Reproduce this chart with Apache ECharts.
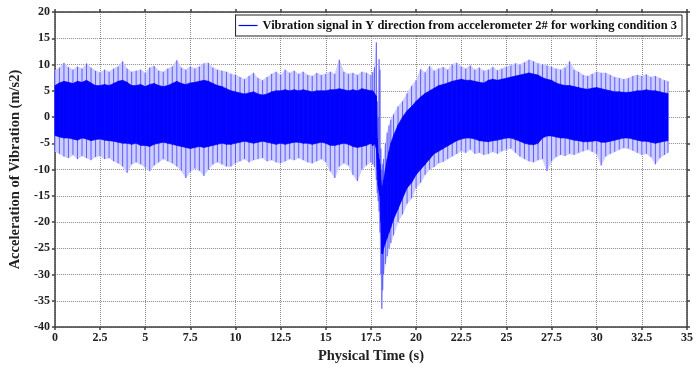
<!DOCTYPE html>
<html>
<head>
<meta charset="utf-8">
<script src="https://cdn.jsdelivr.net/npm/echarts@6/dist/echarts.min.js"></script>
<style>
  html, body { margin: 0; padding: 0; background: #fff; }
  #chart { width: 696px; height: 369px; }
</style>
</head>
<body>
<div id="chart"></div>
<script>
// time of each envelope reading (s)
const time = [
  0, 0.25, 0.5, 0.75, 1, 1.25, 1.5, 1.75, 2, 2.25, 2.5, 2.75, 3, 3.25, 3.5, 3.75,
  4, 4.25, 4.5, 4.75, 5, 5.25, 5.5, 5.75, 6, 6.25, 6.5, 6.75, 7, 7.25, 7.5, 7.75,
  8, 8.25, 8.5, 8.75, 9, 9.25, 9.5, 9.75, 10, 10.25, 10.5, 10.75, 11, 11.25, 11.5, 11.75,
  12, 12.25, 12.5, 12.75, 13, 13.25, 13.5, 13.75, 14, 14.25, 14.5, 14.75, 15, 15.25, 15.5, 15.75,
  16, 16.25, 16.5, 16.75, 17, 17.25, 17.5,
  17.6, 17.7, 17.8, 17.85, 17.9, 17.95, 18, 18.05, 18.1, 18.15, 18.2, 18.3, 18.4, 18.5, 18.6, 18.75,
  19, 19.25, 19.5, 19.75, 20, 20.25, 20.5, 20.75, 21, 21.25, 21.5, 21.75,
  22, 22.25, 22.5, 22.75, 23, 23.25, 23.5, 23.75, 24, 24.25, 24.5, 24.75,
  25, 25.25, 25.5, 25.75, 26, 26.25, 26.5, 26.75, 27, 27.25, 27.5, 27.75,
  28, 28.25, 28.5, 28.75, 29, 29.25, 29.5, 29.75, 30, 30.25, 30.5, 30.75,
  31, 31.25, 31.5, 31.75, 32, 32.25, 32.5, 32.75, 33, 33.25, 33.5, 33.75, 33.95
];
// tallest spikes above the band
const peakHigh = [
  8.8, 9.4, 10.3, 9.5, 9.0, 9.6, 9.2, 10.2, 9.4, 8.8, 8.5, 9.0, 8.6, 9.2, 9.6, 10.6,
  9.2, 8.6, 8.8, 9.0, 8.4, 9.4, 9.7, 8.8, 8.6, 9.2, 9.6, 10.8, 9.4, 9.0, 9.6, 9.2,
  9.6, 10.2, 10.3, 9.4, 9.0, 8.8, 8.6, 8.2, 8.0, 7.6, 7.2, 7.8, 8.4, 7.4, 7.0, 7.6,
  8.2, 8.6, 8.0, 9.0, 8.4, 8.8, 8.2, 8.6, 8.0, 7.8, 8.4, 8.0, 8.2, 8.6, 8.2, 10.9,
  8.6, 8.2, 8.4, 8.0, 8.6, 8.4, 8.0,
  8.5, 9.5, 14.2, 3.0, 0, 11.0, 9.0, -6, -10, -9, -8, -5, -3, -1.6, -0.5, 0.5,
  2.0, 3.0, 4.5, 5.9, 7.0, 9.1, 8.5, 9.7, 8.8, 9.2, 9.5, 9.0,
  10.0, 10.3, 9.6, 9.2, 9.8, 9.0, 9.4, 8.8, 9.0, 9.5, 8.9, 9.2,
  9.6, 9.8, 10.2, 10.0, 10.4, 10.9, 10.6, 10.2, 10.0, 9.8, 9.5, 9.2,
  9.0, 9.4, 10.6, 9.0, 8.6, 8.0, 7.8, 8.2, 8.6, 8.4, 8.4, 8.0,
  7.6, 7.4, 7.2, 7.4, 7.8, 8.0, 7.8, 8.1, 7.6, 7.8, 7.4, 7.0, 6.8
];
// top of the dense band
const coreHigh = [
  6.0, 6.5, 6.8, 6.6, 6.4, 6.8, 6.6, 7.0, 6.5, 6.0, 6.0, 6.2, 6.0, 6.4, 6.8, 7.0,
  6.6, 6.0, 6.0, 6.2, 5.8, 6.2, 6.4, 6.0, 5.8, 6.0, 6.4, 6.8, 6.4, 6.2, 6.5, 6.6,
  6.8, 7.0, 6.8, 6.4, 6.0, 5.8, 5.4, 5.0, 4.8, 4.6, 4.4, 4.6, 4.8, 4.4, 4.2, 4.4,
  4.8, 5.0, 5.0, 5.2, 5.0, 5.2, 5.0, 5.2, 5.0, 4.8, 5.0, 5.0, 5.0, 5.2, 5.2, 5.4,
  5.2, 5.0, 5.2, 5.0, 5.4, 5.2, 5.0,
  5.0, 4.5, 4.0, -4, -7, -8, -9, -12, -14, -13, -12, -10, -8, -6.5, -5, -3.5,
  -1.5, 0, 1.2, 2.0, 3.0, 3.8, 4.5, 5.0, 5.5, 6.0, 6.2, 6.5,
  6.8, 7.0, 7.2, 7.0, 7.0, 6.8, 6.6, 6.5, 7.0, 7.2, 7.0, 7.2,
  7.4, 7.6, 7.8, 8.0, 8.2, 8.4, 8.2, 8.0, 7.5, 7.2, 7.0, 6.5,
  6.2, 6.0, 6.0, 5.8, 5.6, 5.4, 5.3, 5.5, 5.6, 5.4, 5.2, 5.0,
  4.8, 4.8, 4.7, 4.7, 4.8, 5.0, 5.0, 5.2, 5.0, 5.0, 4.8, 4.6, 4.5
];
// bottom of the dense band
const coreLow = [
  -3.5, -3.8, -4.0, -4.0, -4.2, -4.4, -4.0, -4.2, -4.5, -4.3, -4.2, -4.4, -4.5, -4.6, -4.8, -5.0,
  -5.0, -5.2, -5.0, -5.4, -5.4, -5.6, -5.2, -5.0, -4.8, -5.0, -5.2, -5.4, -5.6, -5.8, -6.0, -5.8,
  -5.6, -5.8, -5.6, -5.4, -5.2, -5.0, -5.2, -5.2, -5.0, -4.8, -4.6, -4.8, -5.0, -4.8, -4.6, -4.8,
  -5.0, -5.2, -5.0, -5.2, -5.0, -4.8, -4.8, -5.0, -5.0, -5.2, -5.0, -4.8, -5.0, -5.4, -5.4, -5.2,
  -5.0, -5.2, -5.6, -5.8, -5.6, -5.4, -5.0,
  -5.5, -5.0, -6.0, -10, -13, -14, -15, -20, -26, -26, -25, -24, -23, -22, -21, -19.5,
  -17.5, -15.5, -13.5, -12.5, -11, -10, -9, -8, -7, -6.5, -6, -5.5,
  -5, -4.5, -4.2, -4.0, -4.0, -4.2, -4.5, -4.6, -4.7, -4.5, -4.4, -4.2,
  -4.0, -4.0, -4.3, -4.6, -5.0, -5.2, -5.3, -5.0, -4.0, -3.6, -3.6, -3.8,
  -4.0, -4.0, -4.2, -4.4, -4.5, -4.7, -4.7, -4.6, -4.5, -4.8, -4.8, -4.6,
  -4.4, -4.2, -4.0, -4.0, -4.2, -4.4, -4.6, -4.6, -4.8, -5.0, -4.8, -4.6, -4.5
];
// deepest spikes below the band
const peakLow = [
  -6.5, -7.0, -7.5, -7.8, -7.2, -8.0, -7.4, -7.8, -8.2, -7.6, -7.4, -8.0, -7.8, -8.4, -8.8, -9.4,
  -10.6, -9.0, -8.6, -9.0, -9.6, -10.3, -9.2, -8.6, -8.0, -8.4, -8.8, -9.4, -10.2, -11.6, -10.4, -9.8,
  -10.2, -11.2, -10.0, -9.0, -8.6, -9.0, -9.4, -9.4, -8.8, -8.4, -8.0, -8.6, -8.2, -8.0, -7.8, -8.4,
  -8.2, -8.6, -8.8, -8.4, -8.0, -8.2, -7.8, -8.2, -8.6, -8.8, -8.4, -8.0, -8.6, -10.3, -11.6, -9.4,
  -8.8, -9.2, -11.0, -12.2, -10.0, -9.2, -8.6,
  -9.0, -9.5, -12.0, -14.5, -16, -18, -22, -30, -36.5, -33, -30, -28, -26.5, -25, -24, -22.5,
  -20, -18.5, -16.5, -15.5, -13.5, -12.5, -11, -10, -9.5, -8.8, -8.5, -8,
  -7.5, -7, -6.5, -6.8, -6.2, -7.0, -6.8, -7.2, -7.0, -6.6, -7.0, -6.5,
  -6.2, -6.0, -6.8, -7.5, -8.0, -8.4, -8.6, -8.2, -8.0, -10.3, -8.4, -7.6,
  -7.2, -7.4, -7.0, -7.2, -6.8, -6.5, -6.2, -6.6, -7.0, -9.2, -7.5, -7.0,
  -6.6, -6.2, -5.9, -6.0, -6.4, -6.8, -7.2, -7.0, -7.6, -9.0, -7.8, -7.2, -6.8
];

const legendName = 'Vibration signal in Y direction from accelerometer 2# for working condition 3';
const serif = '"Liberation Serif", "Times New Roman", serif';

// each item: one slice of a band, from reading i to reading i+1
const bandSlices = (hi, lo) => time.slice(0, -1).map((t, i) =>
  [t, lo[i], hi[i], time[i + 1], lo[i + 1], hi[i + 1]]);

// waveform style strokes: a separate vertical stroke from low to high at every reading
const strokes = [];
time.forEach((t, i) => {
  strokes.push([t, peakHigh[i]], [t, peakLow[i]], [t, null]);
});

function bandItem(color) {
  return function (params, api) {
    const a = api.coord([api.value(0), api.value(2)]);
    const b = api.coord([api.value(3), api.value(5)]);
    const c = api.coord([api.value(3), api.value(4)]);
    const d = api.coord([api.value(0), api.value(1)]);
    return {
      type: 'polygon',
      shape: { points: [a, b, c, d] },
      style: { fill: color, stroke: color, lineWidth: 0.6 }
    };
  };
}

const chart = echarts.init(document.getElementById('chart'), null, { renderer: 'canvas' });

const axisLineStyle = { color: '#404040', width: 1.5 };
const tickLabel = { fontFamily: serif, fontWeight: 'bold', fontSize: 12, color: '#222' };
const gridLine = { show: true, lineStyle: { color: '#8a8a8a', type: 'dotted', width: 1 } };
const bandDims = ['t', 'lo', 'hi', 't2', 'lo2', 'hi2'];

chart.setOption({
  animation: false,
  backgroundColor: '#fff',
  grid: { left: 53, right: 5, top: 12, bottom: 38 },
  legend: {
    data: [{ name: legendName, itemStyle: { color: '#0000ff' } }],
    right: 14,
    top: 15,
    z: 20,
    icon: 'rect',
    itemWidth: 19,
    itemHeight: 1.2,
    padding: [4, 5, 4, 3],
    borderColor: '#222',
    borderWidth: 1,
    backgroundColor: '#fff',
    textStyle: { fontFamily: serif, fontWeight: 'bold', fontSize: 12.5, color: '#111' }
  },
  xAxis: [
    {
      type: 'value', min: 0, max: 35, interval: 2.5,
      name: 'Physical Time (s)', nameLocation: 'middle', nameGap: 20,
      nameTextStyle: { fontFamily: serif, fontWeight: 'bold', fontSize: 14.5, color: '#222' },
      axisLine: { onZero: false, lineStyle: axisLineStyle },
      axisTick: { length: 3, lineStyle: axisLineStyle },
      axisLabel: Object.assign({ margin: 5 }, tickLabel),
      splitLine: gridLine
    },
    {
      type: 'value', min: 0, max: 35, interval: 2.5, position: 'top',
      axisLine: { onZero: false, lineStyle: axisLineStyle },
      axisTick: { length: 3, lineStyle: axisLineStyle },
      axisLabel: { show: false },
      splitLine: { show: false }
    }
  ],
  yAxis: [
    {
      type: 'value', min: -40, max: 20, interval: 5,
      name: 'Acceleration of Vibration (m/s2)', nameLocation: 'middle', nameGap: 22,
      nameTextStyle: { fontFamily: serif, fontWeight: 'bold', fontSize: 14.5, color: '#222' },
      axisLine: { show: true, onZero: false, lineStyle: axisLineStyle },
      axisTick: { show: true, length: 3, lineStyle: axisLineStyle },
      axisLabel: Object.assign({ margin: 5 }, tickLabel),
      splitLine: gridLine
    },
    {
      type: 'value', min: -40, max: 20, interval: 5, position: 'right',
      axisLine: { show: true, onZero: false, lineStyle: axisLineStyle },
      axisTick: { show: true, length: 3, lineStyle: axisLineStyle },
      axisLabel: { show: false },
      splitLine: { show: false }
    }
  ],
  series: [
    {
      name: 'spike band', type: 'custom', z: 2,
      dimensions: bandDims,
      encode: { x: [0, 3], y: [1, 2, 4, 5] },
      data: bandSlices(peakHigh, peakLow),
      renderItem: bandItem('#cdcdff')
    },
    {
      name: legendName, type: 'line', data: strokes, symbol: 'none', z: 3,
      connectNulls: false,
      itemStyle: { color: '#0000ff' },
      lineStyle: { color: 'rgba(20,20,255,0.6)', width: 1 }
    },
    {
      name: 'dense band', type: 'custom', z: 4,
      dimensions: bandDims,
      encode: { x: [0, 3], y: [1, 2, 4, 5] },
      data: bandSlices(coreHigh, coreLow),
      renderItem: bandItem('#0000ff')
    }
  ]
});
</script>
</body>
</html>
